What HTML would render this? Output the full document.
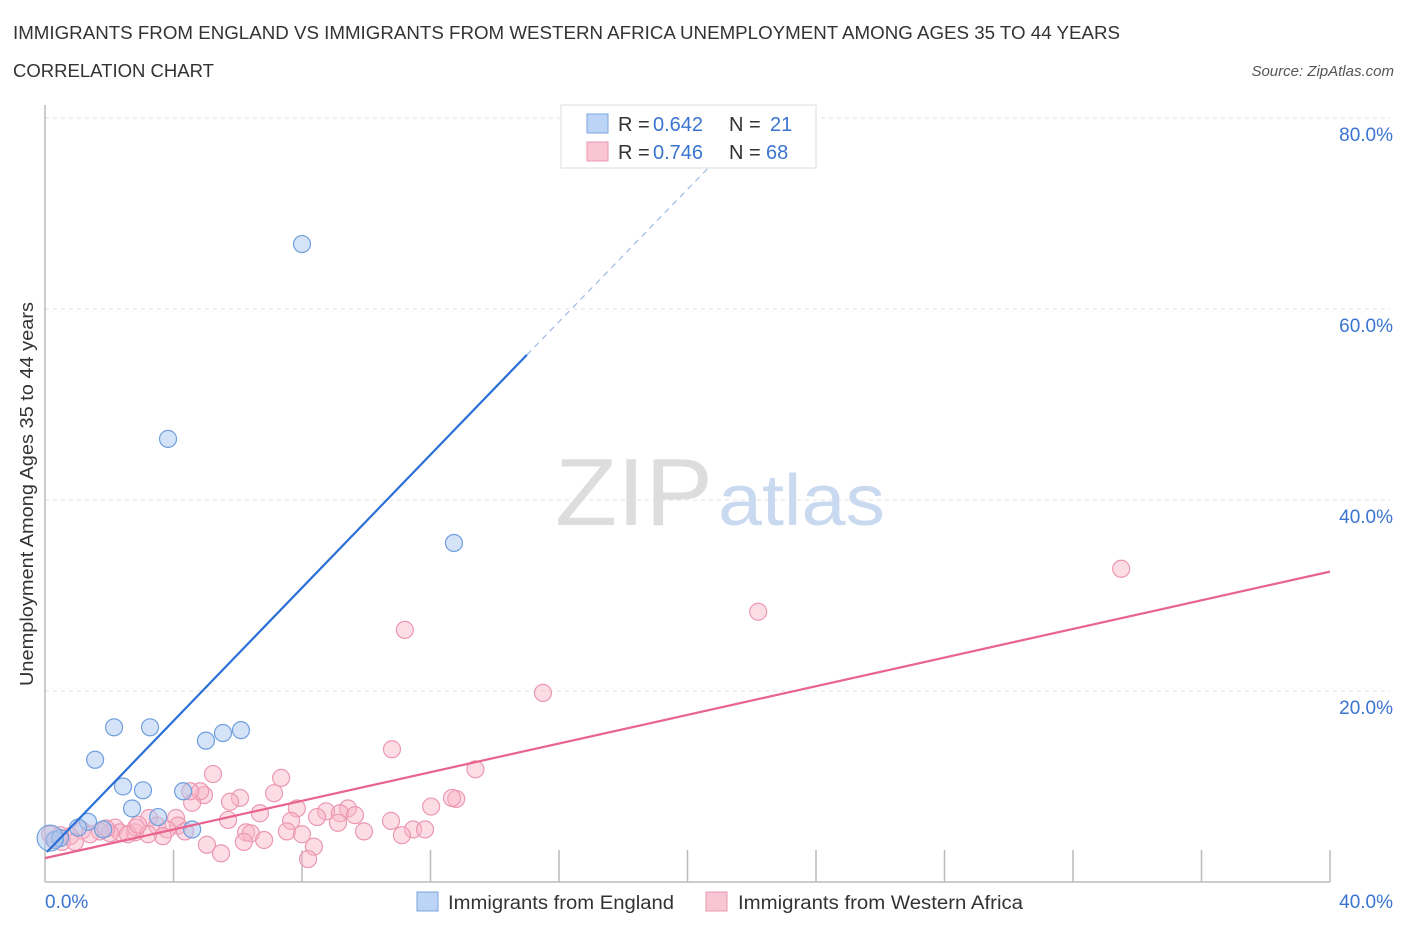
<!DOCTYPE html>
<html><head><meta charset="utf-8"><style>
body{margin:0;background:#fff;font-family:"Liberation Sans",sans-serif}
svg text{font-family:"Liberation Sans",sans-serif}
</style></head><body>
<svg id="chart" width="1406" height="930" xmlns="http://www.w3.org/2000/svg">
<text x="13" y="39" font-size="18" fill="#333" textLength="1107" lengthAdjust="spacingAndGlyphs">IMMIGRANTS FROM ENGLAND VS IMMIGRANTS FROM WESTERN AFRICA UNEMPLOYMENT AMONG AGES 35 TO 44 YEARS</text>
<text x="13" y="77" font-size="18" fill="#333" textLength="201" lengthAdjust="spacingAndGlyphs">CORRELATION CHART</text>
<text x="1394" y="76" font-size="15" fill="#555" text-anchor="end" font-style="italic">Source: ZipAtlas.com</text>
<g id="grid"></g>
<text x="555" y="525" font-size="96" fill="#ddd" textLength="158" lengthAdjust="spacingAndGlyphs" font-family="Liberation Serif">ZIP</text>
<text x="718" y="525" font-size="72" fill="#c9d9f0" textLength="167" lengthAdjust="spacingAndGlyphs">atlas</text>
<g id="marks"></g>
<text transform="translate(33,494) rotate(-90)" font-size="18" fill="#333" text-anchor="middle" textLength="384" lengthAdjust="spacingAndGlyphs">Unemployment Among Ages 35 to 44 years</text>
<g>
<rect x="561" y="105" width="255" height="63" fill="#fff" stroke="#ddd"/>
<rect x="587" y="114" width="21" height="19" fill="#bcd4f5" stroke="#7aa6e0"/>
<rect x="587" y="142" width="21" height="19" fill="#f9c4d3" stroke="#e99ab2"/>
<text x="618" y="131" font-size="20" fill="#333">R =</text>
<text x="653" y="131" font-size="20" fill="#3a74d0">0.642</text>
<text x="729" y="131" font-size="20" fill="#333">N =</text>
<text x="770" y="131" font-size="20" fill="#3a74d0">21</text>
<text x="618" y="159" font-size="20" fill="#333">R =</text>
<text x="653" y="159" font-size="20" fill="#3a74d0">0.746</text>
<text x="729" y="159" font-size="20" fill="#333">N =</text>
<text x="766" y="159" font-size="20" fill="#3a74d0">68</text>
</g>
<g>
<rect x="417" y="892" width="21" height="19" fill="#bcd4f5" stroke="#7aa6e0"/>
<text x="448" y="909" font-size="19" fill="#333" textLength="226" lengthAdjust="spacingAndGlyphs">Immigrants from England</text>
<rect x="706" y="892" width="21" height="19" fill="#f9c4d3" stroke="#e99ab2"/>
<text x="738" y="909" font-size="19" fill="#333" textLength="285" lengthAdjust="spacingAndGlyphs">Immigrants from Western Africa</text>
</g>
</svg>
<script>
const yTicks=[20,40,60,80];
const yTickLabels=["20.0%","40.0%","60.0%","80.0%"];
const xTickCount=10;
const englandX=[8.0,3.83,12.73,2.15,3.27,6.10,5.54,5.01,1.56,2.43,3.05,4.30,2.71,3.52,4.58,1.34,1.81,1.03,0.31,0.47,0.16];
const englandY=[66.8,46.4,35.5,16.2,16.2,15.9,15.6,14.8,12.8,10.0,9.6,9.5,7.7,6.8,5.5,6.3,5.5,5.7,4.4,4.6,4.6];
const africaX=[33.5,22.2,11.2,15.5,10.8,13.4,5.23,7.35,7.13,4.95,6.07,12.8,12.67,12.02,9.43,7.84,5.76,4.58,8.75,9.18,9.65,8.47,6.69,4.08,3.24,5.70,7.66,4.14,3.49,9.12,9.93,10.77,11.46,11.83,7.53,8.0,6.26,6.41,2.80,2.18,2.33,1.71,1.15,2.02,2.83,3.80,4.36,0.78,0.47,0.16,0.28,0.53,1.40,5.04,6.82,8.37,8.19,5.48,6.19,11.11,3.67,3.21,2.58,0.93,4.83,4.52,1.9,2.9];
const africaY=[32.8,28.3,26.4,19.8,13.9,11.8,11.3,10.9,9.3,9.1,8.8,8.7,8.8,7.9,7.7,7.7,8.4,8.3,7.4,7.2,7.0,6.8,7.2,6.7,6.7,6.5,6.4,5.9,5.9,6.2,5.3,6.4,5.5,5.5,5.3,5.0,5.2,5.1,5.2,5.7,5.2,5.3,5.4,5.1,5.7,5.5,5.3,4.8,4.9,5.0,4.4,4.2,5.0,3.9,4.4,3.7,2.4,3.0,4.2,4.9,4.8,5.0,5.0,4.2,9.5,9.5,5.6,6.0];
const englandLine=[0.06,3.14,15.0,55.2,21.0,76.0];
const africaLine=[0,2.5,40,32.5];
const NS="http://www.w3.org/2000/svg";
const X0=45,X1=1330,Y0=882,PX=9.55;
const sx=v=>X0+(X1-X0)*v/40, sy=v=>Y0-v*PX;
function mk(t,a,p){const e=document.createElementNS(NS,t);for(const k in a)e.setAttribute(k,a[k]);p.appendChild(e);return e;}
const grid=document.getElementById('grid'),marks=document.getElementById('marks');
yTicks.forEach((v,i)=>{
 const l=mk('line',{x1:X0,x2:X1+60,y1:sy(v),y2:sy(v),stroke:'#e2e2e2','stroke-dasharray':'4,4'},grid);
 
 
 const t=mk('text',{x:1393,y:sy(v)+23,'font-size':19,fill:'#3a74d0','text-anchor':'end'},grid);
 t.textContent=yTickLabels[i];
 
 
});
const ax=mk('line',{x1:X0,x2:X1,y1:Y0,y2:Y0,stroke:'#bbb','stroke-width':1.5},grid);


const ay=mk('line',{x1:X0,x2:X0,y1:105,y2:Y0,stroke:'#bbb','stroke-width':1.5},grid);


for(let k=1;k<=xTickCount;k++){const tk=mk('line',{x1:sx(k*4),x2:sx(k*4),y1:Y0-32,y2:Y0,stroke:'#bbb','stroke-width':1.5},grid);
 
 }
const xl=mk('text',{x:45,y:908,'font-size':19,fill:'#3a74d0'},grid);xl.textContent='0.0%';


const xr=mk('text',{x:1393,y:908,'font-size':19,fill:'#3a74d0','text-anchor':'end'},grid);xr.textContent='40.0%';


africaX.forEach((x,i)=>{const c=mk('circle',{cx:sx(x),cy:sy(africaY[i]),r:8.5,fill:'rgba(248,180,200,0.45)',stroke:'#eb98b2','stroke-width':1.2},marks);
 
 });
englandX.forEach((x,i)=>{const c=mk('circle',{cx:sx(x),cy:sy(englandY[i]),r:i==20?13:8.5,fill:'rgba(170,200,240,0.5)',stroke:'#6f9fdc','stroke-width':1.2},marks);
 
 });
const bl=mk('line',{x1:sx(englandLine[0]),y1:sy(englandLine[1]),x2:sx(englandLine[2]),y2:sy(englandLine[3]),stroke:'#2a6fd6','stroke-width':2.2},marks);


const bd=mk('line',{x1:sx(englandLine[2]),y1:sy(englandLine[3]),x2:sx(englandLine[4]),y2:sy(englandLine[5]),stroke:'#9bbbe6','stroke-width':1.2,'stroke-dasharray':'6,5'},marks);


const pl=mk('line',{x1:sx(africaLine[0]),y1:sy(africaLine[1]),x2:sx(africaLine[2]),y2:sy(africaLine[3]),stroke:'#e8638e','stroke-width':2.2},marks);


</script>
</body></html>
